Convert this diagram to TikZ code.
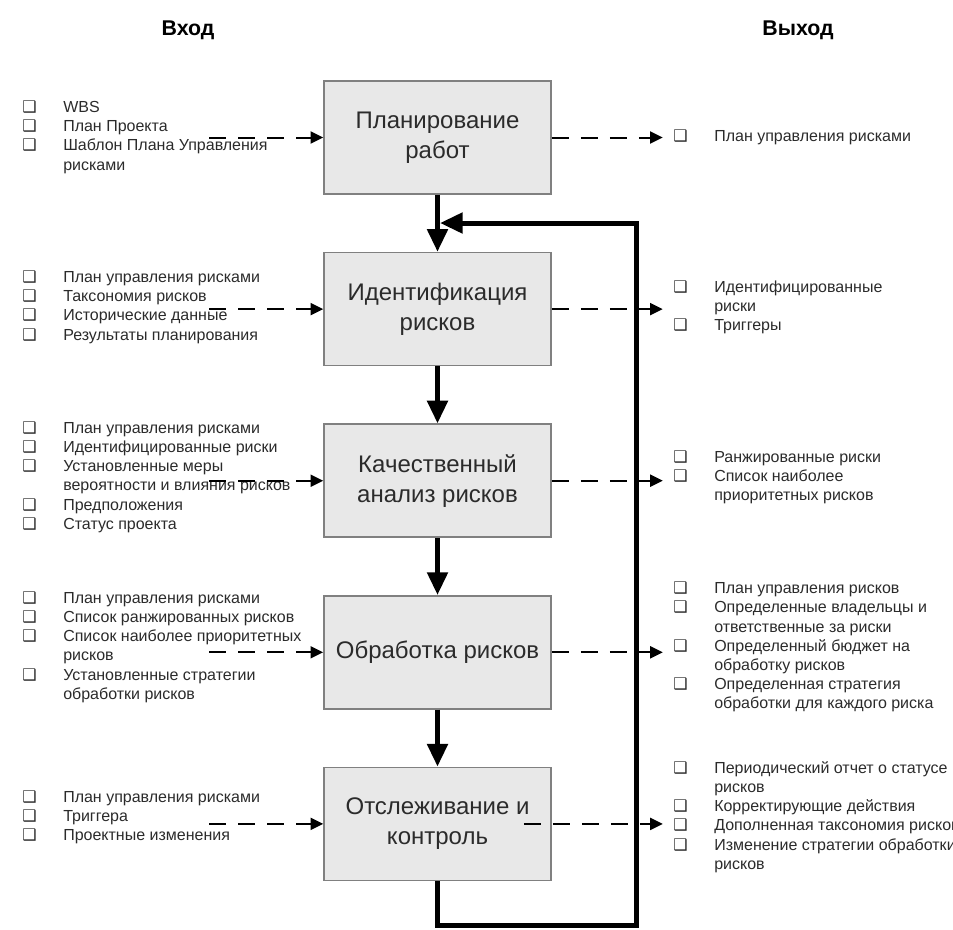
\documentclass[tikz,border=0pt]{standalone}
\usepackage{fontspec}
\setmainfont{Liberation Sans}
\newfontfamily\symfont{DejaVu Sans}
\usetikzlibrary{positioning,arrows.meta}
\definecolor{boxfill}{HTML}{E8E8E8}
\definecolor{boxline}{HTML}{808080}
\definecolor{ink}{HTML}{2B2B2B}
\newcommand{\sq}{{\symfont\fontsize{12}{12}\selectfont ❑}}
\newcommand{\risklist}[1]{\begin{tabular}{@{}p{30.75pt}@{}l@{}}#1\end{tabular}}
\tikzset{
  stage/.style={draw=boxline, fill=boxfill, line width=1.2pt, minimum width=170.25pt,
    minimum height=84.75pt, align=center, text=ink, font=\fontsize{18}{22.5}\selectfont},
  flow/.style={line width=3.75pt, -{Triangle[length=17pt,width=15pt]}},
  feed/.style={line width=1.5pt, dash pattern=on 12.75pt off 9pt, -{Triangle[length=9.5pt,width=9pt]}},
  items/.style={anchor=west, inner sep=0pt, text=ink, font=\fontsize{12}{14.4}\selectfont},
  head/.style={font=\bfseries\fontsize{16}{18}\selectfont}
}
\begin{document}
\begin{tikzpicture}[x=0.75pt,y=-0.75pt]
\useasboundingbox (0,0) rectangle (953,929);
\node[head] (inhead) at (188,30) {Вход};
\node[head] (outhead) at (798,30) {Выход};

\node[stage] (plan) at (437.5,137.5) {Планирование\\работ};
\node[stage, below=42.75pt of plan] (ident) {Идентификация\\рисков};
\node[stage, below=42.75pt of ident] (qual) {Качественный\\анализ рисков};
\node[stage, below=42.75pt of qual] (treat) {Обработка рисков};
\node[stage, below=42.75pt of treat] (track) {Отслеживание и\\контроль};

\draw[flow] (plan) -- (ident);
\draw[flow] (ident) -- (qual);
\draw[flow] (qual) -- (treat);
\draw[flow] (treat) -- (track);
\coordinate (loopcorner) at (636,925);
\coordinate (loopend) at (440,223);
\draw[flow] (track.south) |- (loopcorner) |- (loopend);

\node[items] (planin) at (22,137.5) {\risklist{
  \sq & WBS\\
  \sq & План Проекта\\
  \sq & Шаблон Плана Управления\\
      & рисками}};
\node[items] (identin) at (22,307.5) {\risklist{
  \sq & План управления рисками\\
  \sq & Таксономия рисков\\
  \sq & Исторические данные\\
  \sq & Результаты планирования}};
\node[items] (qualin) at (22,477.5) {\risklist{
  \sq & План управления рисками\\
  \sq & Идентифицированные риски\\
  \sq & Установленные меры\\
      & вероятности и влияния рисков\\
  \sq & Предположения\\
  \sq & Статус проекта}};
\node[items] (treatin) at (22,647.5) {\risklist{
  \sq & План управления рисками\\
  \sq & Список ранжированных рисков\\
  \sq & Список наиболее приоритетных\\
      & рисков\\
  \sq & Установленные стратегии\\
      & обработки рисков}};
\node[items] (trackin) at (22,817.5) {\risklist{
  \sq & План управления рисками\\
  \sq & Триггера\\
  \sq & Проектные изменения}};

\node[items] (planout) at (673,137.5) {\risklist{
  \sq & План управления рисками}};
\node[items] (identout) at (673,307.5) {\risklist{
  \sq & Идентифицированные\\
      & риски\\
  \sq & Триггеры}};
\node[items] (qualout) at (673,477.5) {\risklist{
  \sq & Ранжированные риски\\
  \sq & Список наиболее\\
      & приоритетных рисков}};
\node[items] (treatout) at (673,647.5) {\risklist{
  \sq & План управления рисков\\
  \sq & Определенные владельцы и\\
      & ответственные за риски\\
  \sq & Определенный бюджет на\\
      & обработку рисков\\
  \sq & Определенная стратегия\\
      & обработки для каждого риска}};
\node[items] (trackout) at (673,817.5) {\risklist{
  \sq & Периодический отчет о статусе\\
      & рисков\\
  \sq & Корректирующие действия\\
  \sq & Дополненная таксономия рисков\\
  \sq & Изменение стратегии обработки\\
      & рисков}};

\foreach \s in {plan,ident,qual,treat,track}{
  \coordinate (\s-src) at ([xshift=-85.5pt]\s.west);
  \coordinate (\s-dst) at ([xshift=83.25pt]\s.east);
  \draw[feed] (\s-src) -- (\s);
}
\foreach \s in {plan,ident,qual,treat}
  \draw[feed] (\s) -- (\s-dst);
\coordinate (track-out) at ([xshift=-21pt]track.east);
\draw[feed] (track-out) -- (track-dst);
\end{tikzpicture}
\end{document}
